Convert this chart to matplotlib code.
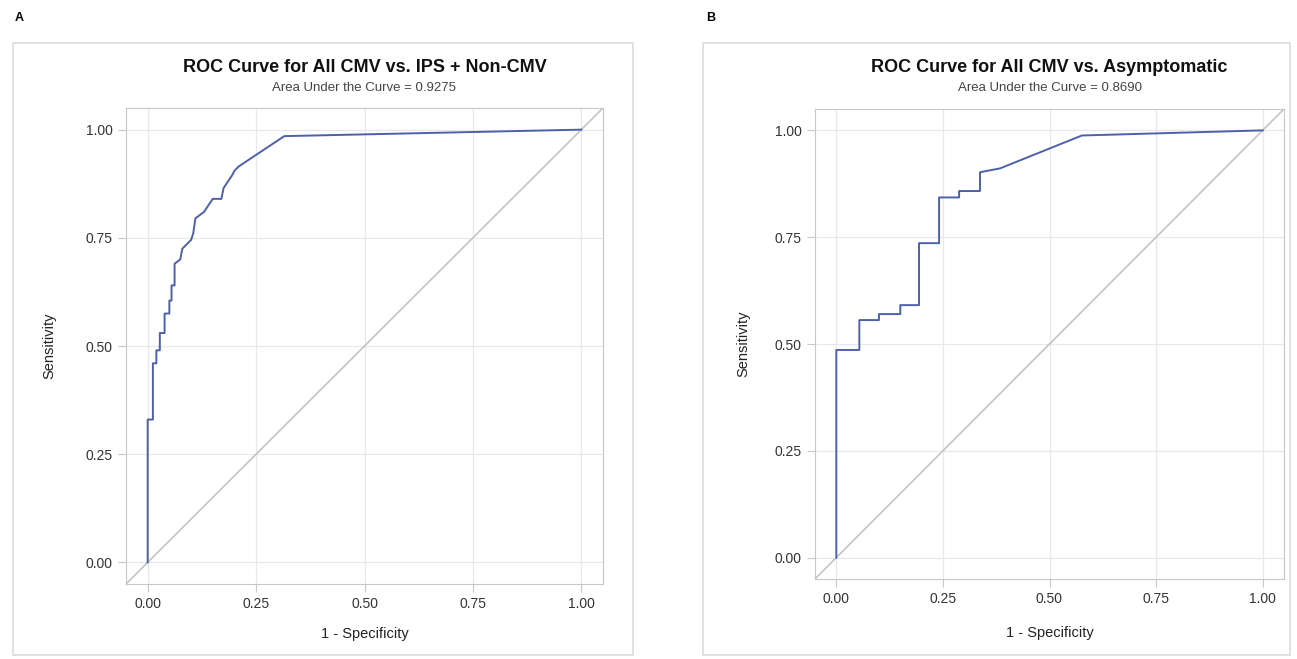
import matplotlib.pyplot as plt
from matplotlib.patches import Rectangle

plt.rcParams['font.family'] = ['Liberation Sans', 'DejaVu Sans']

# panel A: All CMV vs. IPS + Non-CMV
fpr_a = [0, 0, 0.012, 0.012, 0.02, 0.02, 0.028, 0.028, 0.039, 0.039, 0.05, 0.05,
         0.055, 0.055, 0.062, 0.062, 0.075, 0.08, 0.095, 0.10, 0.105, 0.11, 0.13,
         0.14, 0.15, 0.17, 0.175, 0.185, 0.195, 0.20, 0.21, 0.315, 1.0]
tpr_a = [0, 0.33, 0.33, 0.46, 0.46, 0.49, 0.49, 0.53, 0.53, 0.575, 0.575, 0.605,
         0.605, 0.64, 0.64, 0.69, 0.70, 0.725, 0.74, 0.745, 0.76, 0.795, 0.81,
         0.825, 0.84, 0.84, 0.865, 0.88, 0.895, 0.905, 0.915, 0.985, 1.0]

# panel B: All CMV vs. Asymptomatic
fpr_b = [0, 0, 0.054, 0.054, 0.10, 0.10, 0.15, 0.15, 0.194, 0.194, 0.241, 0.241,
         0.288, 0.288, 0.337, 0.337, 0.384, 0.576, 1.0]
tpr_b = [0, 0.486, 0.486, 0.556, 0.556, 0.570, 0.570, 0.591, 0.591, 0.736, 0.736,
         0.843, 0.843, 0.858, 0.858, 0.902, 0.911, 0.988, 1.0]

ticks = [0.0, 0.25, 0.5, 0.75, 1.0]
tick_labels = ['0.00', '0.25', '0.50', '0.75', '1.00']

W, H = 1297, 659
fig = plt.figure(figsize=(W / 100, H / 100), dpi=100)


def px_box(l, t, r, b):
    return [l / W, 1 - b / H, (r - l) / W, (b - t) / H]


panels = [
    ('A', 'ROC Curve for All CMV vs. IPS + Non-CMV', 'Area Under the Curve = 0.9275',
     fpr_a, tpr_a, (126, 108, 603, 584), (13, 43, 633, 655), 15, -0.091, -0.146),
    ('B', 'ROC Curve for All CMV vs. Asymptomatic', 'Area Under the Curve = 0.8690',
     fpr_b, tpr_b, (815, 109, 1284, 579), (703, 43, 1290, 655), 706, -0.10, -0.137),
]

for letter, title, sub, fx, ty, abox, fbox, lx, xl_y, yl_x in panels:
    # outer frame
    l, t, r, b = fbox
    fig.patches.append(Rectangle((l / W, 1 - b / H), (r - l) / W, (b - t) / H,
                                 transform=fig.transFigure, fill=False,
                                 edgecolor='#dcdcdc', linewidth=1.2))
    fig.text(lx / W, 1 - 18 / H, letter, fontsize=9, fontweight='bold', va='center')

    ax = fig.add_axes(px_box(*abox))
    ax.plot([-0.05, 1.05], [-0.05, 1.05], color='#c4c4c4', linewidth=1.2)
    ax.plot(fx, ty, color='#4d60aa', linewidth=1.4)
    ax.set_xlim(-0.05, 1.05)
    ax.set_ylim(-0.05, 1.05)
    ax.set_xticks(ticks)
    ax.set_xticklabels(tick_labels)
    ax.set_yticks(ticks)
    ax.set_yticklabels(tick_labels)
    ax.grid(True, color='#e8e8e8', linewidth=0.9)
    ax.set_axisbelow(True)
    for s in ax.spines.values():
        s.set_color('#c8c8c8')
    ax.tick_params(colors='#c8c8c8', labelcolor='#333333', labelsize=10, length=6)
    ax.set_xlabel('1 - Specificity', fontsize=10.5, color='#222222')
    ax.set_ylabel('Sensitivity', fontsize=10.5, color='#222222')
    ax.xaxis.set_label_coords(0.5, xl_y)
    ax.yaxis.set_label_coords(yl_x, 0.5)

    cx = (abox[0] + abox[2]) / 2 / W
    fig.text(cx, 1 - 68 / H, title, fontsize=13, fontweight='bold',
             ha='center', va='center', color='#111111')
    fig.text(cx, 1 - 88 / H, sub, fontsize=9.5, ha='center', va='center',
             color='#444444')

fig.savefig('out.png', dpi=100)
